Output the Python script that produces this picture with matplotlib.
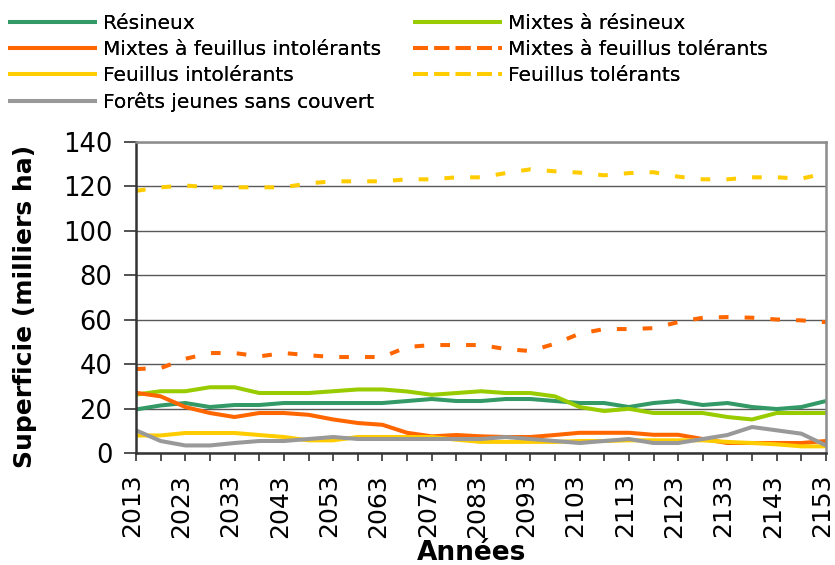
import matplotlib
matplotlib.use("Agg")
import matplotlib.pyplot as plt
import matplotlib.transforms as mtransforms
from matplotlib.lines import Line2D

# Data (milliers ha), one value every 5 years
years = list(range(2013, 2154, 5))

resineux = [19.6, 21.4, 22.5, 20.7, 21.6, 21.6, 22.5, 22.5, 22.5, 22.5,
            22.5, 23.4, 24.3, 23.4, 23.4, 24.3, 24.3, 23.4, 22.5, 22.5,
            20.7, 22.5, 23.4, 21.6, 22.5, 20.7, 19.8, 20.7, 23.4]
mixtes_resineux = [26.3, 27.8, 27.8, 29.6, 29.6, 27.0, 27.0, 27.0, 27.8, 28.6,
                   28.6, 27.7, 26.2, 27.0, 27.8, 27.0, 27.0, 25.5, 20.7, 18.9,
                   19.9, 18.0, 18.0, 18.0, 16.2, 15.1, 18.0, 18.0, 18.0]
mixtes_feuillus_intol = [27.1, 25.5, 20.7, 18.0, 16.2, 18.0, 18.0, 17.2, 15.1, 13.5,
                         12.7, 9.1, 7.5, 8.1, 7.5, 7.2, 7.2, 8.1, 9.1, 9.1,
                         9.1, 8.2, 8.2, 6.3, 4.5, 4.5, 4.5, 4.5, 5.4]
mixtes_feuillus_tol = [37.8, 38.2, 42.4, 45.0, 45.0, 43.5, 45.0, 44.0, 43.2, 43.2,
                       43.2, 47.7, 48.6, 48.6, 48.6, 46.8, 45.9, 49.2, 53.7, 55.8,
                       55.8, 56.2, 58.9, 60.9, 61.2, 60.9, 60.1, 59.7, 58.9]
feuillus_intol = [7.9, 7.9, 9.0, 9.0, 9.0, 8.1, 7.2, 5.7, 5.7, 7.2,
                  7.2, 7.2, 7.2, 6.0, 5.0, 5.0, 5.0, 5.0, 5.4, 5.4,
                  5.7, 5.7, 5.7, 5.7, 5.0, 4.5, 3.9, 3.0, 3.0]
feuillus_tol = [118.0, 119.6, 120.4, 119.6, 119.6, 119.6, 119.6, 121.4, 122.3, 122.3,
                122.3, 123.2, 123.2, 124.1, 124.1, 126.0, 127.7, 126.8, 126.2, 125.0,
                126.0, 126.4, 124.4, 123.2, 123.2, 124.1, 124.1, 123.5, 126.0]
forets_jeunes = [10.2, 5.4, 3.4, 3.4, 4.5, 5.4, 5.4, 6.3, 7.2, 6.3,
                 6.3, 6.3, 6.3, 6.3, 6.3, 7.2, 6.3, 5.4, 4.5, 5.4,
                 6.3, 4.5, 4.5, 6.3, 8.1, 11.7, 10.2, 8.7, 3.4]

series = [
    ("Résineux", resineux, "#339966", "-"),
    ("Mixtes à résineux", mixtes_resineux, "#99CC00", "-"),
    ("Mixtes à feuillus intolérants", mixtes_feuillus_intol, "#FF6600", "-"),
    ("Mixtes à feuillus tolérants", mixtes_feuillus_tol, "#FF6600", "--"),
    ("Feuillus intolérants", feuillus_intol, "#FFCC00", "-"),
    ("Feuillus tolérants", feuillus_tol, "#FFCC00", "--"),
    ("Forêts jeunes sans couvert", forets_jeunes, "#999999", "-"),
]

W, H = 835, 565
fig = plt.figure(figsize=(W / 100, H / 100), dpi=100)
ax = fig.add_axes([136 / W, 1 - 453 / H, (826 - 136) / W, (453 - 142) / H])

lw = 2.9
dash = (2.4, 4.0)
handles = {}
for name, vals, col, ls in series:
    if ls == "--":
        ln, = ax.plot(years, vals, color=col, lw=lw, linestyle=(0, dash),
                      dash_capstyle="butt", solid_joinstyle="round")
    else:
        ln, = ax.plot(years, vals, color=col, lw=lw, solid_capstyle="butt",
                      solid_joinstyle="round")
    handles[name] = ln

ax.set_xlim(2013, 2153)
ax.set_ylim(0, 140)
ax.set_yticks(range(0, 141, 20))
ax.set_xticks(years)
ax.set_xticklabels([str(y) if i % 2 == 0 else "" for i, y in enumerate(years)],
                   rotation=90)
ax.tick_params(axis="y", labelsize=18.5, length=9, width=1.2, pad=8, color="#333333")
ax.tick_params(axis="x", labelsize=18, length=6, width=1.2, pad=9, color="#333333")

# year labels sit a little left of their tick in the original
shift = mtransforms.ScaledTranslation(-4 / 100, 0, fig.dpi_scale_trans)
for lab in ax.get_xticklabels():
    lab.set_transform(lab.get_transform() + shift)

ax.grid(axis="y", color="#595959", lw=1)
ax.set_axisbelow(True)
for s in ["left", "bottom"]:
    ax.spines[s].set_color("#333333")
    ax.spines[s].set_linewidth(1.8)
for s in ["top", "right"]:
    ax.spines[s].set_color("#8c8c8c")
    ax.spines[s].set_linewidth(1.8)

fig.text(25 / W, 1 - 306 / H, "Superficie (milliers ha)", rotation=90,
         ha="center", va="center", fontsize=18, fontweight="bold")
fig.text(472 / W, 1 - 560 / H, "Années", ha="center", va="baseline",
         fontsize=19, fontweight="bold")

# legend in two columns, placed like the original
col1 = ["Résineux", "Mixtes à feuillus intolérants", "Feuillus intolérants",
        "Forêts jeunes sans couvert"]
col2 = ["Mixtes à résineux", "Mixtes à feuillus tolérants", "Feuillus tolérants"]


def leg_handle(name):
    src = handles[name]
    return Line2D([], [], color=src.get_color(), lw=lw,
                  linestyle=src.get_linestyle(), dash_capstyle="butt",
                  solid_capstyle="butt")


for names, x0 in [(col1, 8), (col2, 413)]:
    leg = fig.legend([leg_handle(n) for n in names], names,
                     loc="upper left", bbox_to_anchor=(x0 / W, 1 - 14 / H),
                     frameon=False, fontsize=14.5, handlelength=4.4,
                     handletextpad=0.3, labelspacing=0.35, borderpad=0,
                     borderaxespad=0)
    fig.add_artist(leg)

fig.savefig("out.png", dpi=100)
